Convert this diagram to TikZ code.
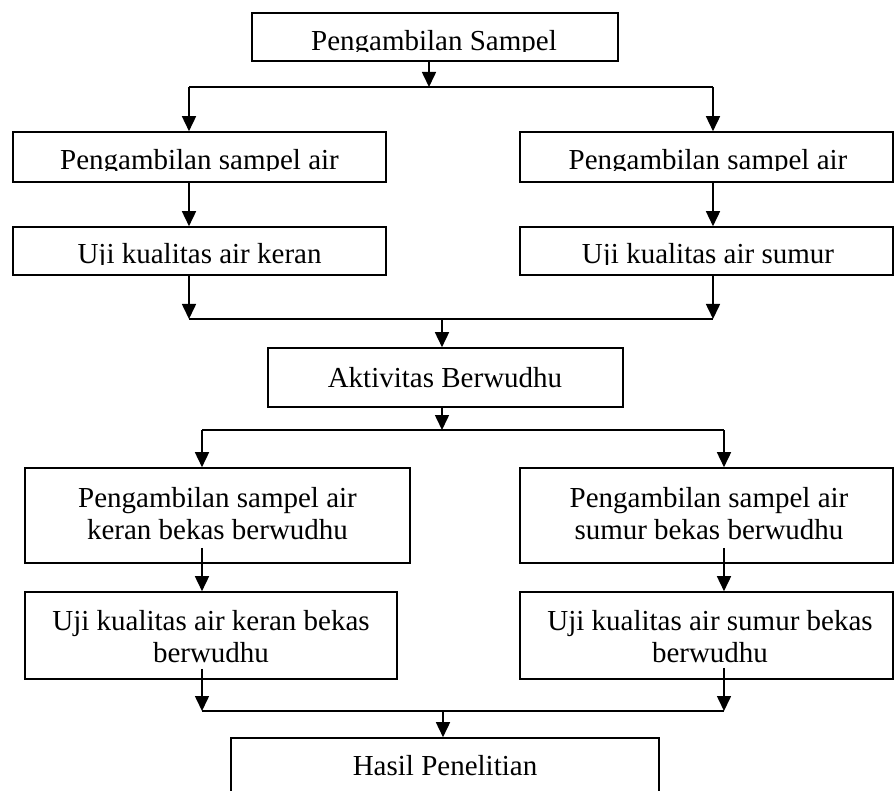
\documentclass[tikz,border=0pt]{standalone}
\usepackage{fontspec}
\setmainfont{Liberation Serif}
\usetikzlibrary{arrows.meta,calc}
\tikzset{
  box/.style={draw, line width=1.6pt, inner sep=0pt, rectangle},
  txt/.style={inner sep=0pt, font=\fontsize{29}{32}\selectfont, align=center},
  conn/.style={line width=1.6pt},
  arr/.style={conn, -{Triangle[width=14pt,length=15pt]}},
}
\begin{document}
\begin{tikzpicture}[x=1pt,y=-1pt]
\clip (0,0) rectangle (894,791);
\fill[white] (0,0) rectangle (894,791);

% boxes
\node[box, minimum width=366pt, minimum height=48pt] (top) at (435,37) {};
\node[box, minimum width=373pt, minimum height=50pt] (L1) at (199.5,157) {};
\node[box, minimum width=373pt, minimum height=50pt] (R1) at (706.5,157) {};
\node[box, minimum width=373pt, minimum height=48pt] (L2) at (199.5,251) {};
\node[box, minimum width=373pt, minimum height=48pt] (R2) at (706.5,251) {};
\node[box, minimum width=355pt, minimum height=59pt] (akt) at (445.5,377.5) {};
\node[box, minimum width=385pt, minimum height=95pt] (KB1) at (217.5,515.5) {};
\node[box, minimum width=373pt, minimum height=95pt] (SB1) at (706.5,515.5) {};
\node[box, minimum width=372pt, minimum height=87pt] (KB2) at (211,635.5) {};
\node[box, minimum width=373pt, minimum height=87pt] (SB2) at (706.5,635.5) {};
\node[box, minimum width=428pt, minimum height=72pt] (hasil) at (445,774) {};

% texts (single-line ones clipped at the baseline, as in the reference)
\begin{scope}
  \clip (252,13) rectangle (618,52);
  \node[txt, anchor=base] (tTop) at (434,51) {Pengambilan Sampel};
\end{scope}
\begin{scope}
  \clip (13,132) rectangle (386,171);
  \node[txt, anchor=base] (tL1) at (199.5,170) {Pengambilan sampel air};
\end{scope}
\begin{scope}
  \clip (520,132) rectangle (893,171);
  \node[txt, anchor=base] (tR1) at (708,170) {Pengambilan sampel air};
\end{scope}
\begin{scope}
  \clip (13,227) rectangle (386,265);
  \node[txt, anchor=base] (tL2) at (199.5,264) {Uji kualitas air keran};
\end{scope}
\begin{scope}
  \clip (520,227) rectangle (893,265);
  \node[txt, anchor=base] (tR2) at (708,264) {Uji kualitas air sumur};
\end{scope}
\node[txt, anchor=base] (tAkt) at (445,388) {Aktivitas Berwudhu};
\node[txt, anchor=north] (tKB1) at (217.5,487) {Pengambilan sampel air\\keran bekas berwudhu};
\node[txt, anchor=north] (tSB1) at (709,487) {Pengambilan sampel air\\sumur bekas berwudhu};
\node[txt, anchor=north] (tKB2) at (211,610) {Uji kualitas air keran bekas\\berwudhu};
\node[txt, anchor=north] (tSB2) at (710,610) {Uji kualitas air sumur bekas\\berwudhu};
\node[txt, anchor=base] (tHasil) at (445,775) {Hasil Penelitian};

% junction points
\coordinate (a0) at (429,87);
\coordinate (hL1) at (189,87);
\coordinate (hR1) at (713,87);
\coordinate (hL2) at (189,319);
\coordinate (hR2) at (713,319);
\coordinate (a1) at (442,319);
\coordinate (a2) at (442,430);
\coordinate (hL3) at (202,430);
\coordinate (hR3) at (724,430);
\coordinate (hL4) at (202,711);
\coordinate (hR4) at (724,711);
\coordinate (a3) at (443,711);

% connectors
\draw[arr] (top.south -| a0) -- (a0);
\draw[conn] (hL1) -- (hR1);
\draw[arr] (hL1) -- (hL1 |- L1.north);
\draw[arr] (hR1) -- (hR1 |- R1.north);
\draw[arr] (hL1 |- L1.south) -- (hL1 |- L2.north);
\draw[arr] (hR1 |- R1.south) -- (hR1 |- R2.north);
\draw[arr] (hL1 |- L2.south) -- (hL2);
\draw[arr] (hR1 |- R2.south) -- (hR2);
\draw[conn] (hL2) -- (hR2);
\draw[arr] (a1) -- (a1 |- akt.north);
\draw[arr] (akt.south -| a2) -- (a2);
\draw[conn] (hL3) -- (hR3);
\draw[arr] (hL3) -- (hL3 |- KB1.north);
\draw[arr] (hR3) -- (hR3 |- SB1.north);
\draw[arr] ($(hL3 |- KB1.south)+(0,-16)$) -- (hL3 |- KB2.north);
\draw[arr] ($(hR3 |- SB1.south)+(0,-16)$) -- (hR3 |- SB2.north);
\draw[arr] ($(hL3 |- KB2.south)+(0,-11)$) -- (hL4);
\draw[arr] ($(hR3 |- SB2.south)+(0,-12)$) -- (hR4);
\draw[conn] (hL4) -- (hR4);
\draw[arr] (a3) -- (a3 |- hasil.north);
\end{tikzpicture}
\end{document}
